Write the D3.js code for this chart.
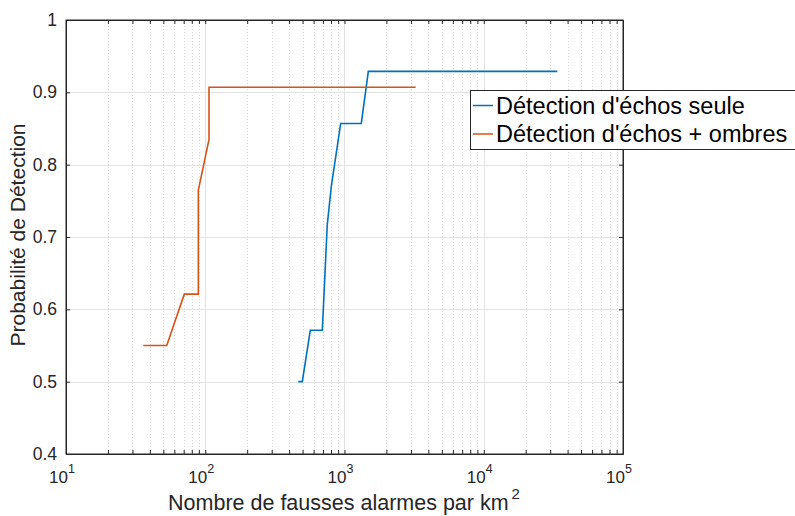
<!DOCTYPE html>
<html><head><meta charset="utf-8">
<script src="https://cdn.jsdelivr.net/npm/d3@7"></script>
<style>body{margin:0;background:#fff;} svg{display:block;font-family:"Liberation Sans",Arial,Helvetica,sans-serif;}</style>
</head><body>
<script>
const seriesNames = ["Détection d'échos seule", "Détection d'échos + ombres"];
const blueX = [465.7, 497.6, 568, 693, 752, 804, 939, 1320, 1483, 33750];
const blueY = [0.5, 0.5, 0.571, 0.571, 0.717, 0.77, 0.857, 0.857, 0.929, 0.929];
const orangeX = [35.9, 52.9, 70.7, 89.2, 89.2, 106.4, 106.4, 3245];
const orangeY = [0.55, 0.55, 0.621, 0.621, 0.765, 0.835, 0.907, 0.907];
const xTickExps = [1, 2, 3, 4, 5];
const yTicks = [0.4, 0.5, 0.6, 0.7, 0.8, 0.9, 1];
const colors = ["#0072BD", "#D95319"];

const W = 795, H = 516;
const L = 66, R = 623, T = 20, B = 454;
const svg = d3.select("body").append("svg").attr("width", W).attr("height", H);
const x = d3.scaleLog().domain([10, 1e5]).range([L, R]);
const y = d3.scaleLinear().domain([0.4, 1]).range([B, T]);

// minor grid
const minor = [];
for (let e = 1; e < 5; e++) for (let m = 2; m <= 9; m++) minor.push(m * Math.pow(10, e));
const g = svg.append("g");
g.selectAll(".mg").data(minor).enter().append("line")
  .attr("x1", d => Math.round(x(d)) + 0.5).attr("x2", d => Math.round(x(d)) + 0.5)
  .attr("y1", T).attr("y2", B)
  .attr("stroke", "#d9d9d9").attr("stroke-width", 1).attr("stroke-dasharray", "1,2");
// major grid
g.selectAll(".xg").data(xTickExps.slice(1, -1)).enter().append("line")
  .attr("x1", d => Math.round(x(Math.pow(10, d))) + 0.5).attr("x2", d => Math.round(x(Math.pow(10, d))) + 0.5)
  .attr("y1", T).attr("y2", B).attr("stroke", "#e3e3e3").attr("stroke-width", 1);
g.selectAll(".yg").data(yTicks.slice(1, -1)).enter().append("line")
  .attr("y1", d => Math.round(y(d)) + 0.5).attr("y2", d => Math.round(y(d)) + 0.5)
  .attr("x1", L).attr("x2", R).attr("stroke", "#e3e3e3").attr("stroke-width", 1);

// lines
const line = d3.line().x(d => x(d[0])).y(d => y(d[1]));
const blue = blueX.map((v, i) => [v, blueY[i]]);
const orange = orangeX.map((v, i) => [v, orangeY[i]]);
[blue, orange].forEach((s, i) => {
  svg.append("path").datum(s).attr("d", line).attr("fill", "none")
    .attr("stroke", colors[i]).attr("stroke-width", 1.6).attr("stroke-linejoin", "miter");
});

// axes via d3
const allX = minor.concat(xTickExps.map(e => Math.pow(10, e)));
const xAxisB = d3.axisBottom(x).tickValues(allX).tickSizeInner(-4).tickSizeOuter(0).tickFormat("");
const xAxisT = d3.axisTop(x).tickValues(allX).tickSizeInner(-4).tickSizeOuter(0).tickFormat("");
const yAxisL = d3.axisLeft(y).tickValues(yTicks).tickSizeInner(-4).tickSizeOuter(0).tickFormat("");
const yAxisR = d3.axisRight(y).tickValues(yTicks).tickSizeInner(-4).tickSizeOuter(0).tickFormat("");
function style(sel) { sel.selectAll("path,line").attr("stroke", "#262626"); sel.select(".domain").attr("stroke-width", 1); }
svg.append("g").attr("transform", `translate(0,${B})`).call(xAxisB).call(style);
svg.append("g").attr("transform", `translate(0,${T})`).call(xAxisT).call(style);
svg.append("g").attr("transform", `translate(${L},0)`).call(yAxisL).call(style);
svg.append("g").attr("transform", `translate(${R},0)`).call(yAxisR).call(style);
svg.append("rect").attr("x", L).attr("y", T).attr("width", R - L).attr("height", B - T)
  .attr("fill", "none").attr("stroke", "#262626").attr("stroke-width", 1);

// tick labels
svg.selectAll(".yl").data(yTicks).enter().append("text")
  .attr("x", 57).attr("y", d => y(d) + 6).attr("text-anchor", "end")
  .attr("font-size", 17.5).attr("fill", "#262626").text(d => d === 1 ? "1" : d.toFixed(1));
const xl = svg.selectAll(".xl").data(xTickExps).enter().append("text")
  .attr("x", d => x(Math.pow(10, d)) - 4).attr("y", 483).attr("text-anchor", "middle")
  .attr("font-size", 17).attr("fill", "#262626");
xl.append("tspan").text("10");
xl.append("tspan").attr("dy", -10).attr("font-size", 12.5).text(d => d);

// axis labels
const xt = svg.append("text").attr("x", 344).attr("y", 510).attr("text-anchor", "middle")
  .attr("font-size", 21.5).attr("fill", "#262626");
xt.append("tspan").text("Nombre de fausses alarmes par km");
xt.append("tspan").attr("dy", -11).attr("dx", 3).attr("font-size", 15).text("2");
svg.append("text").attr("transform", `translate(25,${(T + B) / 2 - 2}) rotate(-90)`)
  .attr("text-anchor", "middle").attr("font-size", 21).attr("fill", "#262626").text("Probabilité de Détection");

// legend
const lg = svg.append("g");
lg.append("rect").attr("x", 470.5).attr("y", 90.5).attr("width", 340).attr("height", 59)
  .attr("fill", "#fff").attr("stroke", "#262626").attr("stroke-width", 1);
seriesNames.forEach((n, i) => {
  const yy = 105.5 + i * 28.5;
  lg.append("line").attr("x1", 473).attr("x2", 493).attr("y1", yy).attr("y2", yy)
    .attr("stroke", colors[i]).attr("stroke-width", 1.5);
  lg.append("text").attr("x", 496).attr("y", yy + 8).attr("font-size", 23.5).attr("fill", "#000").text(n);
});
</script>
</body></html>
